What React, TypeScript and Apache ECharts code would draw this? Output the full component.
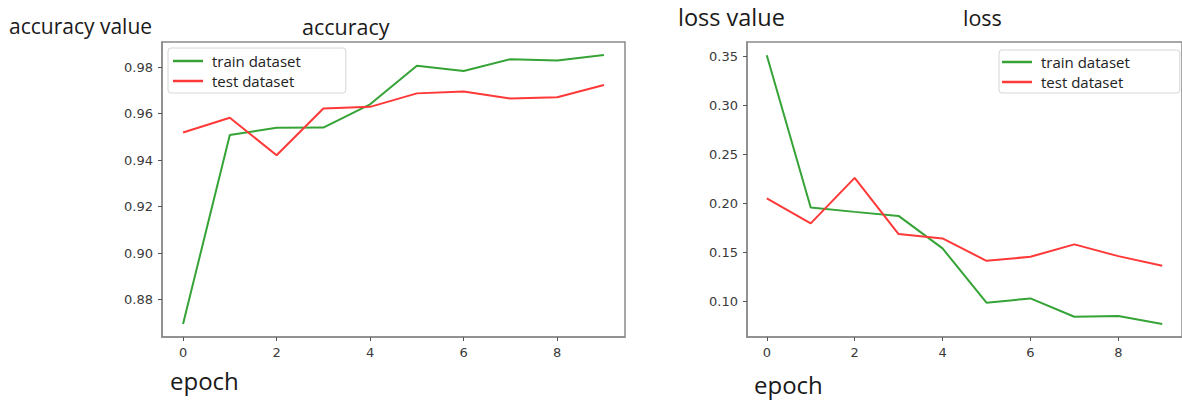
import React, { useEffect, useRef } from "react";
import * as echarts from "echarts";

const epochs = [0, 1, 2, 3, 4, 5, 6, 7, 8, 9];
const accTrain = [0.8695, 0.9508, 0.9539, 0.954, 0.964, 0.9806, 0.9783, 0.9834, 0.9828, 0.9852];
const accTest = [0.9519, 0.9582, 0.9421, 0.9622, 0.9629, 0.9687, 0.9695, 0.9665, 0.967, 0.9723];
const lossTrain = [0.351, 0.1956, 0.1911, 0.187, 0.1538, 0.0983, 0.1027, 0.084, 0.0847, 0.0765];
const lossTest = [0.2048, 0.1793, 0.2258, 0.1684, 0.164, 0.1411, 0.1452, 0.1579, 0.1459, 0.136];
const xTicks = [0, 2, 4, 6, 8];
const accYTicks = [0.88, 0.9, 0.92, 0.94, 0.96, 0.98];
const lossYTicks = [0.1, 0.15, 0.2, 0.25, 0.3, 0.35];
const seriesNames = ["train dataset", "test dataset"];

const GREEN = "#36a336";
const RED = "#ff3838";
const FRAME = "#8a8a8a";
const TICK_TXT = "#3a3a3a";
const TXT_FONT = '"Open Sans", "Noto Sans", sans-serif';
const TICK_FONT = '"DejaVu Sans", sans-serif';

function pairs(ys: number[]) {
  return epochs.map((e, i) => [e, ys[i]]);
}

function xAxisFor(gridIndex: number) {
  return {
    gridIndex,
    type: "value",
    min: -0.45,
    max: 9.45,
    splitLine: { show: false },
    axisLine: { show: true, onZero: false, lineStyle: { color: FRAME, width: 1.5 } },
    axisTick: { show: true, customValues: xTicks, length: 4, lineStyle: { color: "#555", width: 1 } },
    axisLabel: {
      customValues: xTicks,
      margin: 9,
      color: TICK_TXT,
      fontSize: 13,
      fontFamily: TICK_FONT,
    },
  };
}

function yAxisFor(gridIndex: number, min: number, max: number, ticks: number[]) {
  return {
    gridIndex,
    type: "value",
    min,
    max,
    splitLine: { show: false },
    axisLine: { show: true, onZero: false, lineStyle: { color: FRAME, width: 1.5 } },
    axisTick: { show: true, customValues: ticks, length: 4, lineStyle: { color: "#555", width: 1 } },
    axisLabel: {
      customValues: ticks,
      margin: 9,
      color: TICK_TXT,
      fontSize: 13,
      fontFamily: TICK_FONT,
      formatter: (v: number) => v.toFixed(2),
    },
  };
}

function line(name: string, data: number[], color: string, idx: number) {
  return {
    name,
    type: "line",
    xAxisIndex: idx,
    yAxisIndex: idx,
    data: pairs(data),
    showSymbol: false,
    symbol: "none",
    lineStyle: { color, width: 2 },
    itemStyle: { color },
  };
}

function legendAt(left: number, top: number, padding: number[]) {
  return {
    data: seriesNames,
    orient: "vertical",
    left,
    top,
    padding,
    itemGap: 2,
    itemWidth: 30,
    itemHeight: 2.5,
    icon: "rect",
    borderColor: "#d6d6d6",
    borderWidth: 1,
    borderRadius: 3,
    backgroundColor: "#ffffff",
    textStyle: { fontSize: 15, lineHeight: 18, color: "#222", fontFamily: TXT_FONT, padding: [0, 0, 0, 4] },
  };
}

function label(text: string, x: number, y: number, size: number) {
  return {
    type: "text",
    x,
    y,
    style: {
      text,
      fill: "#1a1a1a",
      font: `${size}px ${TXT_FONT}`,
      align: "left",
      verticalAlign: "middle",
    },
  };
}

export default function App() {
  const ref = useRef<HTMLDivElement>(null);
  useEffect(() => {
    if (!ref.current) return;
    const chart = echarts.init(ref.current, undefined, { renderer: "svg" });
    chart.setOption({
      animation: false,
      backgroundColor: "#ffffff",
      grid: [
        { left: 162, top: 42, width: 463, height: 295, show: true, borderColor: FRAME, borderWidth: 1.5, backgroundColor: "transparent" },
        { left: 747, top: 42, width: 442, height: 295, show: true, borderColor: FRAME, borderWidth: 1.5, backgroundColor: "transparent" },
      ],
      xAxis: [xAxisFor(0), xAxisFor(1)],
      yAxis: [yAxisFor(0, 0.8639, 0.9908, accYTicks), yAxisFor(1, 0.0633, 0.3646, lossYTicks)],
      legend: [legendAt(168, 48, [4, 45, 3, 5]), legendAt(999, 50, [3, 50, 2, 3])],
      series: [
        line(seriesNames[0], accTrain, GREEN, 0),
        line(seriesNames[1], accTest, RED, 0),
        line(seriesNames[0], lossTrain, GREEN, 1),
        line(seriesNames[1], lossTest, RED, 1),
      ],
      graphic: [
        label("accuracy value", 9, 26, 21),
        label("accuracy", 302, 26, 21.5),
        label("epoch", 170, 380, 24),
        label("loss value", 678, 17, 23.5),
        label("loss", 963, 17, 21.5),
        label("epoch", 754, 384, 24),
      ],
    });
    return () => chart.dispose();
  }, []);
  return (
    <div
      ref={ref}
      style={{ position: "fixed", left: 0, top: 0, width: 1182, height: 400, background: "#fff" }}
    />
  );
}
